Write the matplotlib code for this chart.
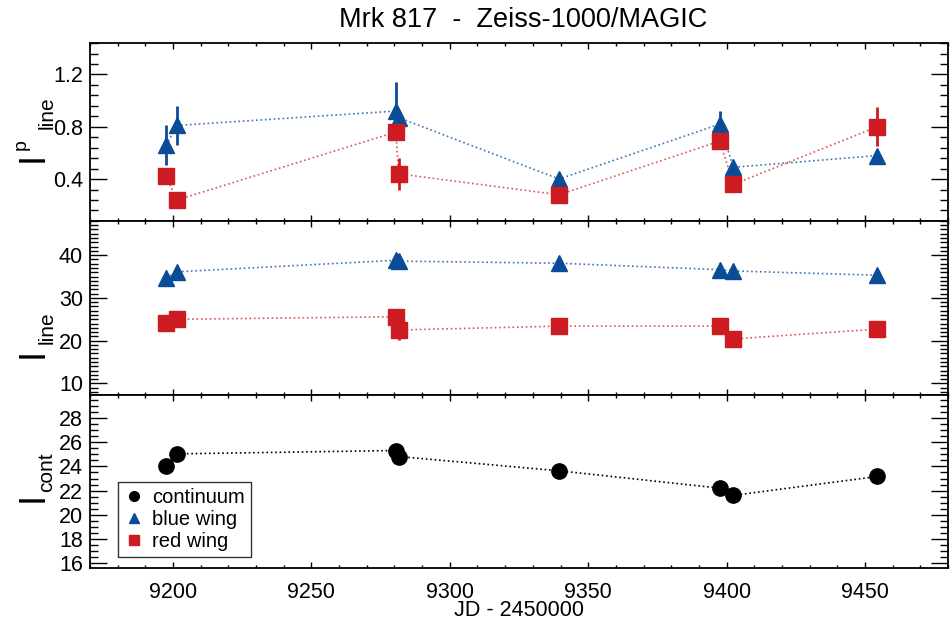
import matplotlib
matplotlib.use("Agg")
import matplotlib.pyplot as plt
from matplotlib.ticker import MultipleLocator
from matplotlib.lines import Line2D

plt.rcParams["font.family"] = ["Liberation Sans", "DejaVu Sans"]

# observation dates (JD - 2450000)
jd = [9197.5, 9201.5, 9280.5, 9281.5, 9339.5, 9397.5, 9402.5, 9454.5]

# polarized line flux
pol_blue = [0.66, 0.81, 0.92, 0.87, 0.40, 0.82, 0.49, 0.58]
pol_blue_err = [0.15, 0.15, 0.22, 0.03, 0.02, 0.10, 0.02, 0.02]
pol_red = [0.42, 0.24, 0.76, 0.44, 0.28, 0.69, 0.36, 0.80]
pol_red_err = [0.02, 0.02, 0.02, 0.12, 0.02, 0.02, 0.02, 0.15]

# line flux
line_blue = [34.6, 36.1, 38.8, 38.6, 38.1, 36.6, 36.3, 35.3]
line_red = [24.2, 25.0, 25.6, 22.5, 23.4, 23.4, 20.4, 22.7]
line_red_err = [0.3, 0.3, 0.3, 2.4, 0.3, 0.3, 1.2, 0.3]

# continuum flux
cont = [24.0, 25.05, 25.33, 24.83, 23.64, 22.2, 21.6, 23.17]

BLUE = "#0b4c97"
RED = "#cc1b21"
BLUE_LINE = "#3e74b8"
RED_LINE = "#e05555"

W, H = 952, 624
fig = plt.figure(figsize=(W / 100, H / 100), dpi=100)
left, width = 0.0945, 0.9013
ax1 = fig.add_axes([left, 0.646, width, 0.285])
ax2 = fig.add_axes([left, 0.367, width, 0.279])
ax3 = fig.add_axes([left, 0.0897, width, 0.2773])


def ylab(x, y, s, size):
    # rotated label piece, anchored at baseline centre (pixel coords)
    fig.text(x / W, 1 - y / H, s, fontsize=size, rotation=90,
             rotation_mode="anchor", ha="center", va="baseline")


# top panel
ax1.plot(jd, pol_blue, ls=":", color=BLUE_LINE, lw=1.2)
ax1.plot(jd, pol_red, ls=":", color=RED_LINE, lw=1.2)
ax1.errorbar(jd, pol_blue, yerr=pol_blue_err, fmt="^", color=BLUE,
             ms=11, ecolor=BLUE, elinewidth=2, capsize=0)
ax1.errorbar(jd, pol_red, yerr=pol_red_err, fmt="s", color=RED,
             ms=11, ecolor=RED, elinewidth=2, capsize=0)
ax1.set_ylim(0.08, 1.44)
ax1.yaxis.set_major_locator(MultipleLocator(0.4))
ax1.yaxis.set_minor_locator(MultipleLocator(0.08))
ylab(43, 157.5, "I", 26)
ylab(26, 145, "p", 14)
ylab(52.5, 112.5, "line", 15)

# middle panel
ax2.plot(jd, line_blue, ls=":", color=BLUE_LINE, lw=1.2)
ax2.plot(jd, line_red, ls=":", color=RED_LINE, lw=1.2)
ax2.plot(jd, line_blue, "^", color=BLUE, ms=11)
ax2.errorbar(jd, line_red, yerr=line_red_err, fmt="s", color=RED,
             ms=11, ecolor=RED, elinewidth=2, capsize=0)
ax2.set_ylim(7.3, 48)
ax2.yaxis.set_major_locator(MultipleLocator(10))
ax2.yaxis.set_minor_locator(MultipleLocator(1))
ylab(43, 353, "I", 26)
ylab(52.5, 328, "line", 15)

# bottom panel
ax3.plot(jd, cont, ls=":", color="black", lw=1.2)
ax3.plot(jd, cont, "o", color="black", ms=11)
ax3.set_ylim(15.55, 29.95)
ax3.yaxis.set_major_locator(MultipleLocator(2))
ax3.yaxis.set_minor_locator(MultipleLocator(0.5))
ylab(43, 497.5, "I", 26)
ylab(52.5, 472.5, "cont", 15)
ax3.set_xlabel("JD - 2450000", fontsize=15.5)
ax3.xaxis.set_label_coords(0.5, -0.185)

for ax in (ax1, ax2, ax3):
    ax.set_xlim(9170, 9480)
    ax.xaxis.set_major_locator(MultipleLocator(50))
    ax.xaxis.set_minor_locator(MultipleLocator(10))
    ax.tick_params(axis="both", which="both", direction="in",
                   top=True, right=True, labelsize=15.5, width=1)
    ax.tick_params(axis="y", which="major", length=12, pad=5)
    ax.tick_params(axis="y", which="minor", length=6)
    ax.tick_params(axis="x", which="major", length=4, pad=10)
    ax.tick_params(axis="x", which="minor", length=2.5)
    for sp in ax.spines.values():
        sp.set_linewidth(1.3)
    if ax is not ax3:
        ax.tick_params(axis="x", labelbottom=False)

handles = [
    Line2D([], [], marker="o", color="black", ls="none", ms=7),
    Line2D([], [], marker="^", color=BLUE, ls="none", ms=7),
    Line2D([], [], marker="s", color=RED, ls="none", ms=7),
]
leg = ax3.legend(handles, ["continuum", "blue wing", "red wing"],
                 loc="lower left", bbox_to_anchor=(0.0326, 0.0636),
                 fontsize=14.5, frameon=True, fancybox=False,
                 handlelength=1.0, handletextpad=0.4, labelspacing=0.15,
                 borderpad=0.3, borderaxespad=0)
leg.get_frame().set_edgecolor("black")
leg.get_frame().set_linewidth(1.0)

fig.text(0.549, 0.968, "Mrk 817  -  Zeiss-1000/MAGIC", fontsize=19.5,
         ha="center", va="center")

fig.savefig("out.png", dpi=100)
